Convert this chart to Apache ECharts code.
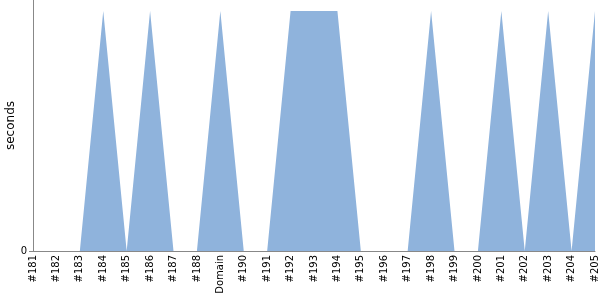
<!DOCTYPE html>
<html><head><meta charset="utf-8">
<script src="https://cdn.jsdelivr.net/npm/echarts@6/dist/echarts.min.js"></script>
<style>html,body{margin:0;padding:0;background:#fff}#c{width:600px;height:300px}</style>
</head><body><div id="c"></div>
<script>
const categories = ['#181','#182','#183','#184','#185','#186','#187','#188','Domain','#190','#191','#192','#193','#194','#195','#196','#197','#198','#199','#200','#201','#202','#203','#204','#205'];
const values = [0,0,0,1,0,1,0,0,1,0,0,1,1,1,0,0,0,1,0,0,1,0,1,0,1];
const yName = 'seconds';
const chart = echarts.init(document.getElementById('c'), null, {renderer:'canvas'});
chart.setOption({
  animation:false,
  grid:{left:33,right:5,top:0,bottom:49,containLabel:false,outerBoundsMode:'none'},
  xAxis:{type:'category',data:categories,boundaryGap:false,
    axisLine:{lineStyle:{color:'#888'}},axisTick:{show:false},
    axisLabel:{rotate:90,interval:0,fontSize:10,color:'#000',fontFamily:'DejaVu Sans',margin:4}},
  yAxis:{type:'value',min:0,max:1.046,name:yName,nameLocation:'middle',nameGap:16,nameMoveOverlap:false,
    nameTextStyle:{fontSize:12,color:'#000',fontFamily:'DejaVu Sans'},
    splitLine:{show:false},axisLine:{show:true,lineStyle:{color:'#888'}},
    axisTick:{show:true,length:4,lineStyle:{color:'#888'},customValues:[0]},
    axisLabel:{fontSize:10,color:'#000',fontFamily:'DejaVu Sans',margin:6,customValues:[0]}},
  series:[{type:'line',data:values,symbol:'none',lineStyle:{width:0},
    areaStyle:{color:'#8fb3dc',opacity:1}}]
});
</script></body></html>
